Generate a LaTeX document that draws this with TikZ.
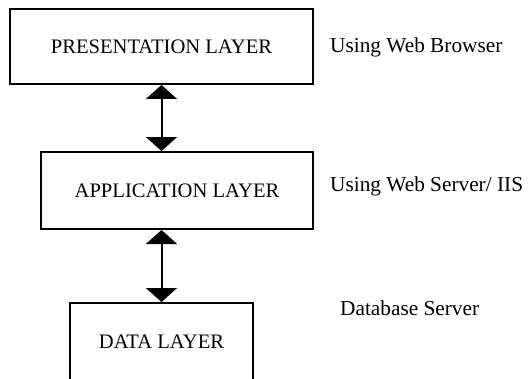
\documentclass[tikz,border=0pt]{standalone}
\usepackage{fontspec}
\setmainfont{Liberation Serif}
\usetikzlibrary{arrows.meta,positioning}
\tikzset{
  layerbox/.style={draw, line width=2pt, inner sep=0pt, font=\fontsize{20.6}{24}\selectfont},
  sidenote/.style={anchor=west, inner sep=0pt, font=\fontsize{21.3}{25}\selectfont},
  twoway/.style={line width=2pt, {Triangle[width=31pt,length=14pt]}-{Triangle[width=31pt,length=14pt]}}
}
\begin{document}
\begin{tikzpicture}[x=1pt,y=1pt]
                \useasboundingbox (0,0) rectangle (529,378);
                \node[layerbox, minimum width=303pt, minimum height=75pt] (pres) at (161.5,331.5) {PRESENTATION LAYER};
                \node[layerbox, minimum width=272pt, minimum height=77pt] (app) at (177,187.5) {APPLICATION LAYER};
                \node[layerbox, minimum width=183pt, minimum height=77pt] (data) at (161.5,36.5) {DATA LAYER};
                \node[sidenote] (browser) at (330,331) {Using Web Browser};
                \node[sidenote] (webserver) at (330,192) {Using Web Server/ IIS};
                \node[sidenote] (dbserver) at (340,70) {Database Server};
                \draw[twoway] (pres.south) -- (pres.south |- app.north);
                \draw[twoway] (app.south -| data.north) -- (data.north);
            \end{tikzpicture}
\end{document}
